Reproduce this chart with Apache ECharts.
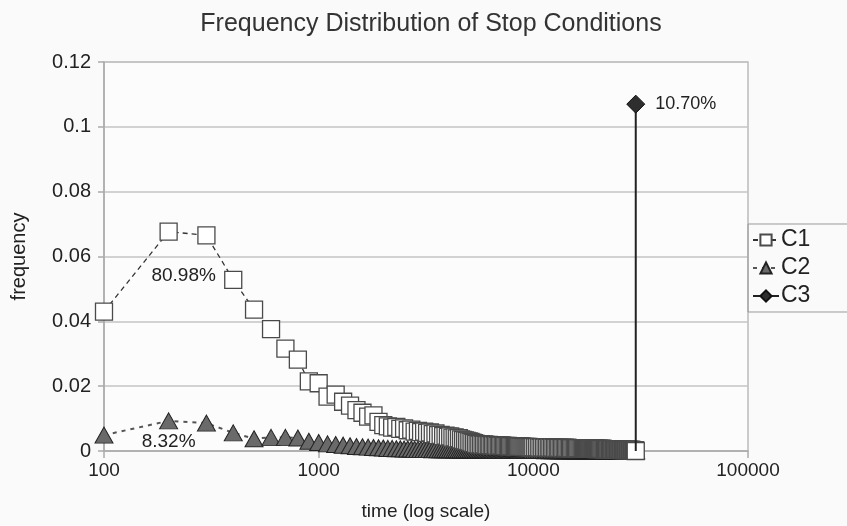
<!DOCTYPE html>
<html>
<head>
<meta charset="utf-8">
<script src="https://cdn.jsdelivr.net/npm/echarts@6/dist/echarts.min.js"></script>
<style>
  html, body { margin: 0; padding: 0; background: #fafafa; }
  #chart { width: 847px; height: 526px; }
</style>
</head>
<body>
<div id="chart"></div>
<script>
// time bins (log x axis)
const times = [
  100, 200, 300, 400, 500, 600, 700, 800, 900, 1000,
  1100, 1200, 1300, 1400, 1500, 1600, 1700, 1800, 1900, 2000,
  2100, 2200, 2300, 2400, 2500, 2600, 2700, 2800, 2900, 3000,
  3100, 3200, 3300, 3400, 3500, 3600, 3700, 3800, 3900, 4000,
  4100, 4200, 4300, 4400, 4500, 4600, 4700, 4800, 4900, 5000,
  5100, 5200, 5300, 5400, 5500, 5600, 5700, 5800, 5900, 6000,
  6100, 6200, 6300, 6400, 6500, 6600, 6700, 6800, 6900, 7000,
  7100, 7200, 7300, 7400, 7500, 7600, 7700, 7800, 7900, 8000,
  8100, 8200, 8300, 8400, 8500, 8600, 8700, 8800, 8900, 9000,
  9100, 9200, 9300, 9400, 9500, 9600, 9700, 9800, 9900, 10000,
  10200, 10400, 10600, 10800, 11000, 11200, 11400, 11600, 11800, 12000,
  12200, 12400, 12600, 12800, 13000, 13200, 13400, 13600, 13800, 14000,
  14200, 14400, 14600, 14800, 15000, 15200, 15400, 15600, 15800, 16000,
  16200, 16400, 16600, 16800, 17000, 17200, 17400, 17600, 17800, 18000,
  18200, 18400, 18600, 18800, 19000, 19200, 19400, 19600, 19800, 20000,
  20200, 20400, 20600, 20800, 21000, 21200, 21400, 21600, 21800, 22000,
  22200, 22400, 22600, 22800, 23000, 23200, 23400, 23600, 23800, 24000,
  24200, 24400, 24600, 24800, 25000, 25200, 25400, 25600, 25800, 26000,
  26200, 26400, 26600, 26800, 27000, 27200, 27400, 27600, 27800, 28000,
  28200, 28400, 28600, 28800, 29000, 29200, 29400, 29600, 29800, 30000
];
const c1 = [
  0.043, 0.0677, 0.0665, 0.0528, 0.0436, 0.0376, 0.0316, 0.0282, 0.0215, 0.0209,
  0.0168, 0.0174, 0.0152, 0.014, 0.0126, 0.0118, 0.0106, 0.011, 0.009, 0.008,
  0.0076, 0.0072, 0.0074, 0.0068, 0.007, 0.0064, 0.0066, 0.006, 0.0062, 0.0058,
  0.006, 0.0056, 0.0057, 0.0052, 0.0054, 0.0049, 0.005, 0.0046, 0.0047, 0.0044,
  0.0045, 0.0041, 0.0042, 0.0039, 0.004, 0.0036, 0.0034, 0.0033, 0.0031, 0.003,
  0.0028, 0.0026, 0.0024, 0.0022, 0.0021, 0.002, 0.0021, 0.0019, 0.002, 0.0019,
  0.0018, 0.0019, 0.0018, 0.0017, 0.0018, 0.0017, 0.0018, 0.0016, 0.0017, 0.0016,
  0.0017, 0.0016, 0.0015, 0.0016, 0.0015, 0.0016, 0.0015, 0.0014, 0.0015, 0.0014,
  0.0015, 0.0014, 0.0015, 0.0014, 0.0013, 0.0014, 0.0013, 0.0014, 0.0013, 0.0012,
  0.0013, 0.0012, 0.0013, 0.0012, 0.0013, 0.0012, 0.0011, 0.0012, 0.0011, 0.0012,
  0.0011, 0.0012, 0.0011, 0.001, 0.0011, 0.001, 0.0011, 0.001, 0.0011, 0.001,
  0.0011, 0.001, 0.0009, 0.001, 0.0009, 0.001, 0.0009, 0.001, 0.0009, 0.001,
  0.0009, 0.001, 0.0009, 0.0008, 0.0009, 0.0008, 0.0009, 0.0008, 0.0009, 0.0008,
  0.0009, 0.0008, 0.0009, 0.0008, 0.0009, 0.0008, 0.0007, 0.0008, 0.0007, 0.0008,
  0.0007, 0.0008, 0.0007, 0.0008, 0.0007, 0.0008, 0.0007, 0.0006, 0.0007, 0.0006,
  0.0007, 0.0006, 0.0007, 0.0006, 0.0007, 0.0006, 0.0005, 0.0006, 0.0005, 0.0006,
  0.0005, 0.0006, 0.0005, 0.0006, 0.0005, 0.0004, 0.0005, 0.0004, 0.0005, 0.0004,
  0.0005, 0.0004, 0.0005, 0.0004, 0.0004, 0.0005, 0.0004, 0.0004, 0.0003, 0.0004,
  0.0004, 0.0003, 0.0004, 0.0003, 0.0004, 0.0003, 0.0004, 0.0003, 0.0003, 0.0004,
  0.0003, 0.0003, 0.0004, 0.0003, 0.0003, 0.0002, 0.0003, 0.0003, 0.0002, 0
];
const c2 = [
  0.0049, 0.0093, 0.0086, 0.0056, 0.0038, 0.0042, 0.0042, 0.004, 0.003, 0.0026,
  0.0022, 0.002, 0.0018, 0.0016, 0.0014, 0.0013, 0.0012, 0.0011, 0.001, 0.0009,
  0.0008, 0.0008, 0.0007, 0.0007, 0.0006, 0.0006, 0.0006, 0.0005, 0.0005, 0.0005,
  0.0005, 0.0005, 0.0005, 0.0004, 0.0005, 0.0004, 0.0004, 0.0004, 0.0004, 0.0004,
  0.0004, 0.0004, 0.0003, 0.0004, 0.0003, 0.0003, 0.0003, 0.0003, 0.0003, 0.0003,
  0.0003, 0.0003, 0.0003, 0.0003, 0.0003, 0.0003, 0.0003, 0.0003, 0.0003, 0.0003,
  0.0003, 0.0002, 0.0003, 0.0002, 0.0003, 0.0002, 0.0002, 0.0002, 0.0002, 0.0002,
  0.0002, 0.0002, 0.0002, 0.0002, 0.0002, 0.0002, 0.0002, 0.0002, 0.0002, 0.0002,
  0.0002, 0.0002, 0.0002, 0.0002, 0.0002, 0.0002, 0.0002, 0.0002, 0.0002, 0.0002,
  0.0002, 0.0002, 0.0002, 0.0002, 0.0002, 0.0002, 0.0002, 0.0002, 0.0002, 0.0002,
  0.0002, 0.0002, 0.0002, 0.0002, 0.0002, 0.0002, 0.0001, 0.0002, 0.0002, 0.0001,
  0.0002, 0.0001, 0.0002, 0.0001, 0.0002, 0.0001, 0.0001, 0.0002, 0.0001, 0.0001,
  0.0001, 0.0001, 0.0002, 0.0001, 0.0001, 0.0001, 0.0001, 0.0001, 0.0001, 0.0001,
  0.0001, 0.0001, 0.0001, 0.0001, 0.0001, 0.0001, 0.0001, 0.0001, 0.0001, 0.0001,
  0.0001, 0.0001, 0.0001, 0.0001, 0.0001, 0.0001, 0.0001, 0.0001, 0.0001, 0.0001,
  0.0001, 0.0001, 0.0001, 0.0001, 0.0001, 0.0001, 0.0001, 0.0001, 0.0001, 0.0001,
  0.0001, 0.0001, 0.0001, 0.0001, 0.0001, 0.0001, 0.0001, 0.0001, 0.0001, 0.0001,
  0.0001, 0.0001, 0.0001, 0.0001, 0.0001, 0.0001, 0.0001, 0.0001, 0.0001, 0.0001,
  0.0001, 0.0001, 0.0001, 0.0001, 0.0001, 0.0001, 0.0001, 0.0001, 0.0001, 0.0001,
  0.0001, 0.0001, 0.0001, 0.0001, 0.0001, 0.0001, 0.0001, 0.0001, 0.0001, 0.0001
];
// C3: single spike at the end
const c3Time = [30000, 30000];
const c3 = [0, 0.107];
const yTicks = { min: 0, max: 0.12, step: 0.02 };
const shares = { c1: "80.98%", c2: "8.32%", c3: "10.70%" };
const shareAt = { c1: [235, 0.0542], c2: [200, 0.003] };

const font = "Liberation Sans, Arial, sans-serif";
const chart = echarts.init(document.getElementById("chart"));

chart.setOption({
  backgroundColor: "#fafafa",
  animation: false,
  title: {
    text: "Frequency Distribution of Stop Conditions",
    left: 426,
    textAlign: "center",
    top: 7,
    textStyle: { fontFamily: font, fontSize: 25, fontWeight: "normal", color: "#333" }
  },
  legend: {
    orient: "vertical",
    left: 748,
    top: 224,
    padding: [4, 40, 4, 4],
    itemWidth: 26,
    itemHeight: 14,
    itemGap: 4,
    borderColor: "#999",
    borderWidth: 1,
    textStyle: { fontFamily: font, fontSize: 23, lineHeight: 24, color: "#222", padding: [0, 0, 0, -3] },
    data: ["C1", "C2", "C3"]
  },
  grid: {
    left: 104,
    right: 99,
    top: 62,
    bottom: 74,
    show: true,
    borderColor: "#bbb",
    borderWidth: 1.5,
    backgroundColor: "#fcfcfc"
  },
  xAxis: {
    type: "log",
    logBase: 10,
    min: 100,
    max: 100000,
    name: "time (log scale)",
    nameLocation: "middle",
    nameGap: 51,
    nameTextStyle: { fontFamily: font, fontSize: 19, color: "#222" },
    axisLine: { lineStyle: { color: "#aaa", width: 1.5 } },
    axisTick: { show: true, length: 7, lineStyle: { color: "#aaa", width: 1.5 } },
    minorTick: { show: false },
    splitLine: { show: false },
    axisLabel: { fontFamily: font, fontSize: 19, color: "#222", margin: 10,
      formatter: function(value) { return String(value); } }
  },
  yAxis: {
    type: "value",
    min: yTicks.min,
    max: yTicks.max,
    interval: yTicks.step,
    name: "frequency",
    nameLocation: "middle",
    nameGap: 75,
    nameTextStyle: { fontFamily: font, fontSize: 20, color: "#222" },
    axisLine: { show: true, lineStyle: { color: "#aaa", width: 1.5 } },
    axisTick: { show: true, length: 6, lineStyle: { color: "#aaa", width: 1.5 } },
    splitLine: { lineStyle: { color: "#c4c4c4", width: 1.5 } },
    axisLabel: { fontFamily: font, fontSize: 20, color: "#222", margin: 13 }
  },
  series: [
    {
      name: "C1",
      type: "line",
      z: 3,
      showAllSymbol: true,
      symbol: "rect",
      symbolSize: 17,
      data: times.map((t, i) => [t, c1[i]]),
      lineStyle: { color: "#333", width: 1.3, type: [5, 4] },
      itemStyle: { color: "#fff", borderColor: "#4a4a4a", borderWidth: 1.3 },
      markPoint: {
        symbol: "circle",
        symbolSize: 1,
        itemStyle: { color: "rgba(0,0,0,0)" },
        label: { show: true, position: "inside", fontFamily: font, fontSize: 19, color: "#222",
          formatter: shares.c1 },
        data: [{ coord: shareAt.c1 }]
      }
    },
    {
      name: "C2",
      type: "line",
      z: 2,
      showAllSymbol: true,
      symbol: "triangle",
      symbolSize: [18, 16],
      data: times.map((t, i) => [t, c2[i]]),
      lineStyle: { color: "#555", width: 2, type: [4, 5] },
      itemStyle: { color: "#6a6a6a", borderColor: "#222", borderWidth: 1 },
      markPoint: {
        symbol: "circle",
        symbolSize: 1,
        itemStyle: { color: "rgba(0,0,0,0)" },
        label: { show: true, position: "inside", fontFamily: font, fontSize: 19, color: "#222",
          formatter: shares.c2 },
        data: [{ coord: shareAt.c2 }]
      }
    },
    {
      name: "C3",
      type: "line",
      z: 4,
      symbol: "diamond",
      symbolSize: 18,
      data: c3Time.map((t, i) => ({
        value: [t, c3[i]],
        symbol: i === 0 ? "none" : "diamond",
        label: { show: i === 1 }
      })),
      lineStyle: { color: "#222", width: 2 },
      itemStyle: { color: "#2e2e2e", borderColor: "#111", borderWidth: 1 },
      label: { position: "right", distance: 10, fontFamily: font, fontSize: 18, color: "#222",
        formatter: shares.c3 }
    }
  ]
});
</script>
</body>
</html>
